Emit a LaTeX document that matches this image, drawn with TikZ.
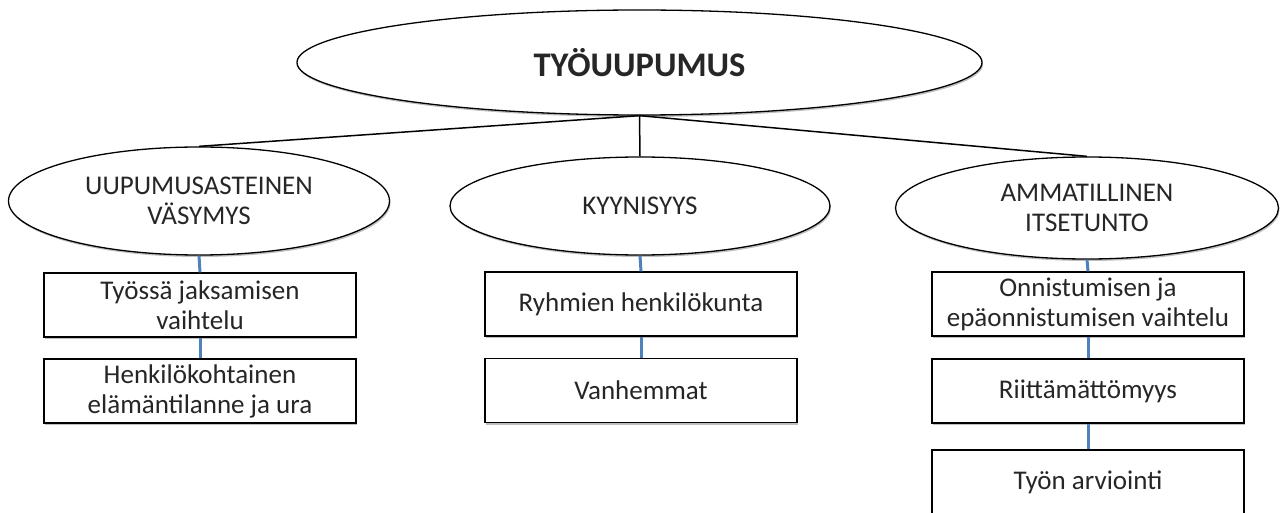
\documentclass[tikz,border=0pt]{standalone}
\usepackage{fontspec}
\setmainfont{Carlito}
\usetikzlibrary{shapes.geometric,shadows}
\definecolor{conblue}{RGB}{79,129,189}
\definecolor{txt}{RGB}{38,38,38}
\begin{document}
\begin{tikzpicture}[x=1pt,y=-1pt,
  shad/.style={drop shadow={shadow xshift=1pt,shadow yshift=-2pt,opacity=0.25,fill=black}},
  ell/.style={ellipse,draw,line width=1.3pt,fill=white,inner sep=0pt,align=center,text=txt,
    font=\fontsize{27}{30}\selectfont,shad},
  box/.style={rectangle,draw,line width=1.3pt,fill=white,minimum width=312pt,minimum height=64pt,
    inner sep=0pt,align=center,text=txt,font=\fontsize{27}{30}\selectfont,shad},
  link/.style={line width=1.5pt},
  blink/.style={conblue,line width=3pt}]
\useasboundingbox (0,0) rectangle (1280,513);
\clip (0,0) rectangle (1280,513);
\node[ell,minimum width=685pt,minimum height=105pt,font=\bfseries\fontsize{34.5}{40}\selectfont] (top) at (639.5,62.5) {TYÖUUPUMUS};
\node[ell,minimum width=381pt,minimum height=108pt] (a) at (199,201) {UUPUMUSASTEINEN\\VÄSYMYS};
\node[ell,minimum width=380pt,minimum height=98pt] (b) at (640,206) {KYYNISYYS};
\node[ell,minimum width=383pt,minimum height=102pt] (c) at (1087,208) {AMMATILLINEN\\ITSETUNTO};
\node[box] (a1) at (200,305) {Työssä jaksamisen\\vaihtelu};
\node[box] (a2) at (200,391) {Henkilökohtainen\\elämäntilanne ja ura};
\node[box] (b1) at (641,304) {Ryhmien henkilökunta};
\node[box] (b2) at (641,390.5) {Vanhemmat};
\node[box] (c1) at (1088,304) {Onnistumisen ja\\epäonnistumisen vaihtelu};
\node[box] (c2) at (1088,391) {Riittämättömyys};
\node[box] (c3) at (1088,482) {Työn arviointi};
\draw[link] (top.south) -- (a.north);
\draw[link] (top.south) -- (b.north);
\draw[link] (top.south) -- (c.north);
\draw[blink] (a.south) -- (a1.north);
\draw[blink] (a1.south) -- (a2.north);
\draw[blink] (b.south) -- (b1.north);
\draw[blink] (b1.south) -- (b2.north);
\draw[blink] (c.south) -- (c1.north);
\draw[blink] (c1.south) -- (c2.north);
\draw[blink] (c2.south) -- (c3.north);
\end{tikzpicture}
\end{document}
